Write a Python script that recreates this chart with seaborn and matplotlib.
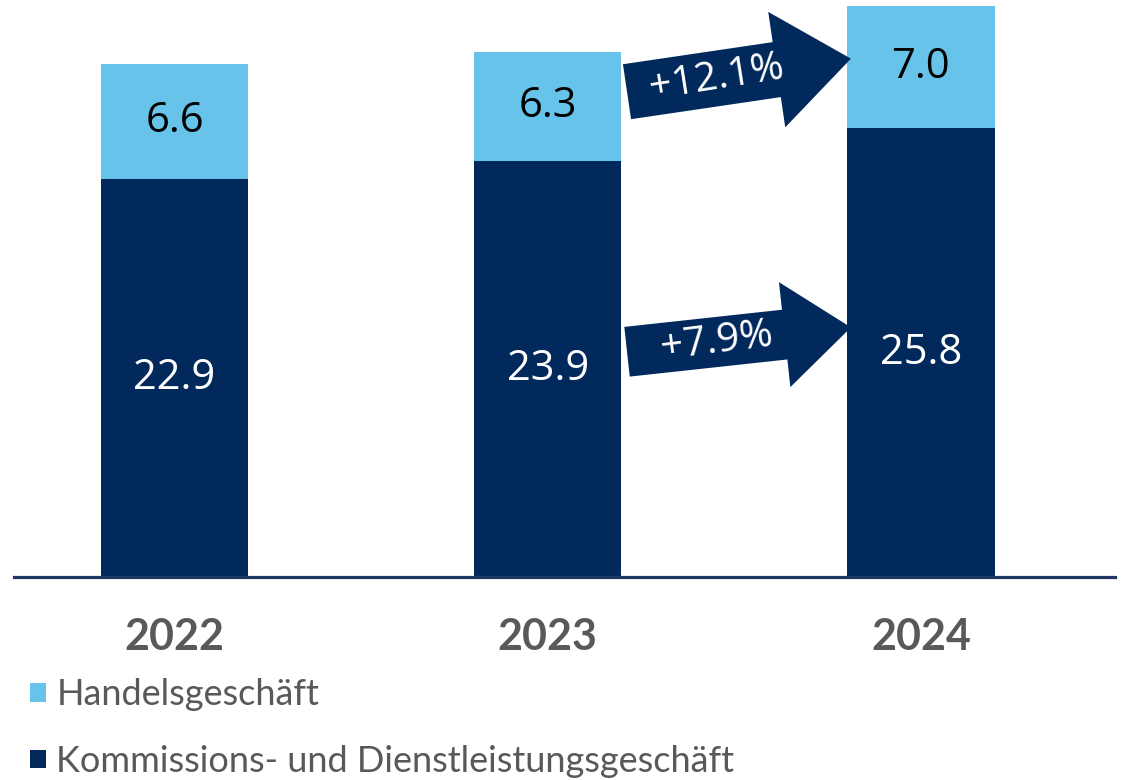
import numpy as np
import pandas as pd
import matplotlib
matplotlib.use("Agg")
import matplotlib.pyplot as plt
import seaborn as sns

# daten (Mrd. EUR)
jahre = ["2022", "2023", "2024"]
kommission = [22.9, 23.9, 25.8]
handel = [6.6, 6.3, 7.0]
serien = ["Handelsgeschäft", "Kommissions- und Dienstleistungsgeschäft"]
wachstum_handel = "+12.1%"
wachstum_kommission = "+7.9%"

DUNKEL = "#01295c"
HELL = "#68c3ea"
GRAU = "#595959"

df = pd.DataFrame({"jahr": jahre, "kommission": kommission, "handel": handel})
df["gesamt"] = df["kommission"] + df["handel"]

sns.set_theme(style="white")
plt.rcParams["font.family"] = ["Lato", "DejaVu Sans"]

fig = plt.figure(figsize=(11.35, 7.8), dpi=100)
ax = fig.add_axes([14 / 1135, 1 - 577 / 780, (1115 - 14) / 1135, 574 / 780])

breite = 0.395
sns.barplot(data=df, x="jahr", y="gesamt", color=HELL, width=breite,
            saturation=1, ax=ax, label=serien[0], linewidth=0)
sns.barplot(data=df, x="jahr", y="kommission", color=DUNKEL, width=breite,
            saturation=1, ax=ax, label=serien[1], linewidth=0)
if ax.get_legend() is not None:
    ax.get_legend().remove()

ax.set_xlim(-0.43, 2.52)
ax.set_ylim(0, 33)
ax.set_xlabel("")
ax.set_ylabel("")
ax.set_yticks([])
sns.despine(ax=ax, left=True)
ax.spines["bottom"].set_color("#1f3864")
ax.spines["bottom"].set_linewidth(2.3)
ax.tick_params(axis="x", length=0, pad=29)
for lbl in ax.get_xticklabels():
    lbl.set_fontsize(31)
    lbl.set_fontweight("bold")
    lbl.set_color(GRAU)

# werte in den balken
for i, row in df.iterrows():
    ax.text(i, row["kommission"] / 2, f"{row['kommission']:.1f}", ha="center", va="center",
            color="white", fontsize=30, family=["Open Sans", "DejaVu Sans"])
    ax.text(i, row["kommission"] + row["handel"] / 2, f"{row['handel']:.1f}", ha="center",
            va="center", color="black", fontsize=30, family=["Open Sans", "DejaVu Sans"])

# pfeile zwischen 2023 und 2024
def pfeil(y0, y1, text, tail, head_w, head_l, winkel):
    x0, x1 = 1 + breite / 2 + 0.015, 2 - breite / 2 + 0.01
    ax.annotate("", xy=(x1, y1), xytext=(x0, y0),
                arrowprops=dict(arrowstyle=f"simple,head_length={head_l},head_width={head_w},tail_width={tail}",
                                color=DUNKEL, shrinkA=0, shrinkB=0, mutation_scale=1, linewidth=0))
    xm = x0 + (x1 - x0) * 0.40
    ym = y0 + (y1 - y0) * 0.40
    ax.text(xm, ym, text, ha="center", va="center", rotation=winkel, rotation_mode="anchor",
            color="white", fontsize=29, family=["Open Sans", "DejaVu Sans"])

m23 = df.loc[1, "kommission"] + df.loc[1, "handel"] / 2
m24 = df.loc[2, "kommission"] + df.loc[2, "handel"] / 2
pfeil(m23 + 0.85, m24 + 0.5, wachstum_handel, 40, 84, 54, 9)
pfeil(df.loc[1, "kommission"] / 2 + 1.0, df.loc[2, "kommission"] / 2 + 1.45, wachstum_kommission, 36, 76, 48, 7)

# legende
handles, labels = ax.get_legend_handles_labels()
leg = fig.legend(handles, labels, loc="upper left", bbox_to_anchor=(16 / 1135, 1 - 664 / 780),
                 frameon=False, fontsize=26, handlelength=0.42, handleheight=0.42,
                 handletextpad=0.3, labelspacing=0.93, borderaxespad=0)
for t in leg.get_texts():
    t.set_color(GRAU)

fig.savefig("out.png", dpi=100)
